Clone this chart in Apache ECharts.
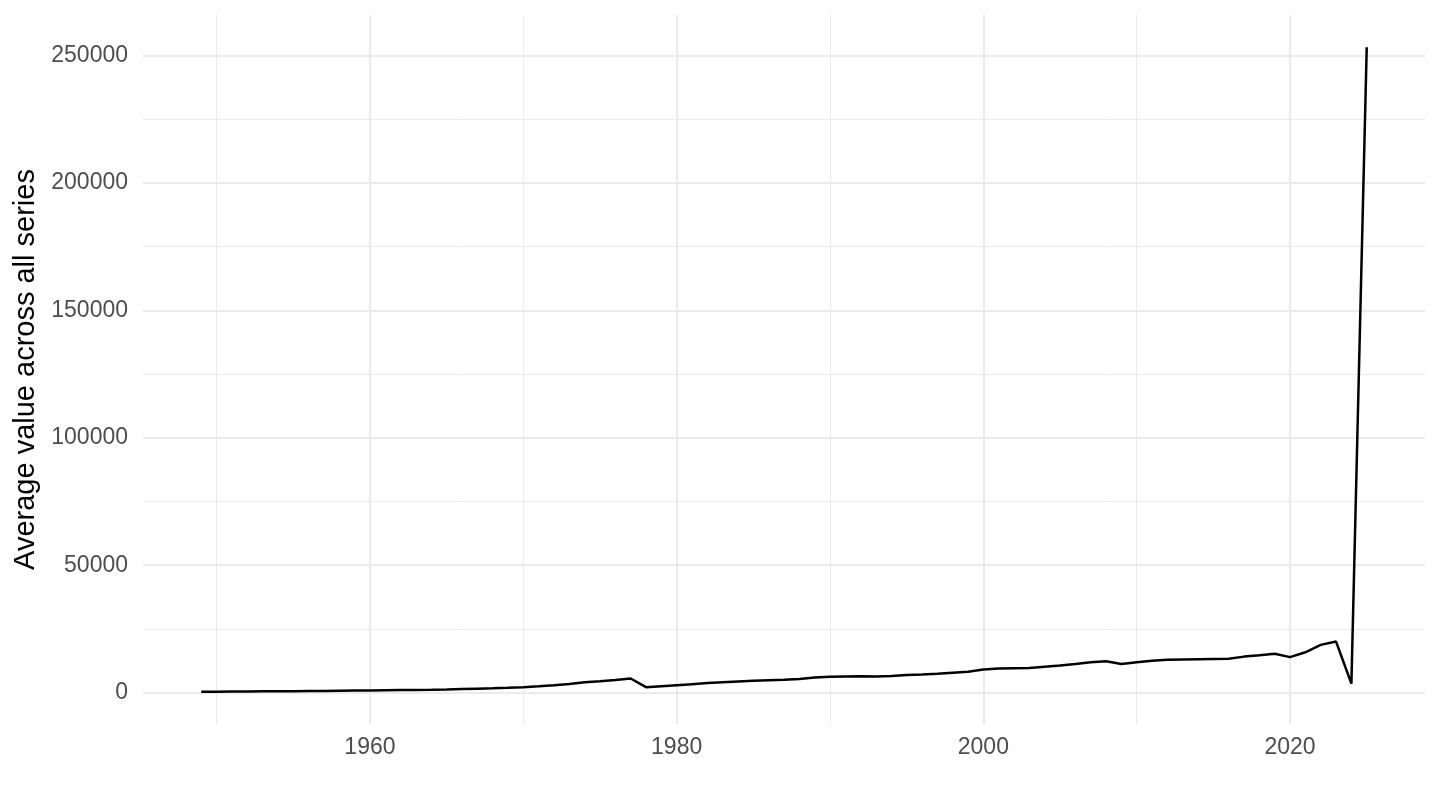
<!DOCTYPE html>
<html>
<head>
<meta charset="utf-8">
<script src="https://cdn.jsdelivr.net/npm/echarts@6/dist/echarts.min.js"></script>
<style>
html,body{margin:0;padding:0;background:#fff;}
#chart{width:1440px;height:810px;}
</style>
</head>
<body>
<div id="chart"></div>
<script>
const years = [1949,1950,1951,1952,1953,1954,1955,1956,1957,1958,1959,
  1960,1961,1962,1963,1964,1965,1966,1967,1968,1969,
  1970,1971,1972,1973,1974,1975,1976,1977,1978,1979,
  1980,1981,1982,1983,1984,1985,1986,1987,1988,1989,
  1990,1991,1992,1993,1994,1995,1996,1997,1998,1999,
  2000,2001,2002,2003,2004,2005,2006,2007,2008,2009,
  2010,2011,2012,2013,2014,2015,2016,2017,2018,2019,
  2020,2021,2022,2023,2024,2025];
const avgValues = [300,350,400,450,500,520,550,600,650,700,760,
  820,880,950,1030,1100,1200,1350,1500,1650,1850,
  2100,2450,2850,3350,4000,4400,4900,5500,2100,2500,
  2900,3300,3700,4050,4350,4600,4800,5000,5300,5900,
  6200,6300,6400,6300,6500,6900,7100,7400,7800,8200,
  9000,9400,9500,9600,10100,10600,11200,11900,12300,11200,
  11900,12500,12900,13000,13100,13200,13300,14100,14600,15200,
  13900,15800,18700,20000,3500,253300];
const xTickLabels = [1960,1980,2000,2020];
const yTickLabels = [0,50000,100000,150000,200000,250000];
const yTitle = 'Average value across all series';

const xMin = 1945.2, xMax = 2028.8;
const yMin = -12350, yMax = 265950;
const FONT = '"Liberation Sans", Arial, sans-serif';

const chart = echarts.init(document.getElementById('chart'));
const seriesData = years.map((y,i)=>[y, avgValues[i]]);

function xAxisDef(step, major){
  return {
    type:'value', position:'bottom', min:xMin, max:xMax, minInterval:step, maxInterval:step,
    axisLine:{show:false}, axisTick:{show:false},
    axisLabel:{
      show:major, margin:12, color:'#4d4d4d', fontSize:23, fontFamily:FONT,
      formatter:(v)=> xTickLabels.some(t=>Math.abs(t-v)<1e-6) ? String(Math.round(v)) : ''
    },
    splitLine:{show:true, showMinLine:false, showMaxLine:false,
      lineStyle:{color:'#ebebeb', width: major?2:1}}
  };
}
function yAxisDef(step, major){
  const d = {
    type:'value', position:'left', min:yMin, max:yMax, minInterval:step, maxInterval:step,
    axisLine:{show:false}, axisTick:{show:false},
    axisLabel:{
      show:major, margin:15, color:'#4d4d4d', fontSize:23, fontFamily:FONT,
      formatter:(v)=> yTickLabels.some(t=>Math.abs(t-v)<1e-6) ? String(Math.round(v)) : ''
    },
    splitLine:{show:true, showMinLine:false, showMaxLine:false,
      lineStyle:{color:'#ebebeb', width: major?2:1}}
  };
  if (major){
    d.name = yTitle;
    d.nameLocation = 'middle';
    d.nameGap = 100;
    d.nameRotate = 90;
    d.nameTextStyle = {color:'#000', fontSize:29, fontFamily:FONT};
  }
  return d;
}

chart.setOption({
  animation:false,
  backgroundColor:'#fff',
  grid:{left:143, right:15, top:15, bottom:86, containLabel:false, outerBoundsMode:'none'},
  xAxis:[xAxisDef(10,false), xAxisDef(20,true)],
  yAxis:[yAxisDef(50000,true), yAxisDef(25000,false)],
  series:[{
    type:'line', xAxisIndex:1, yAxisIndex:0,
    data:seriesData, showSymbol:false, symbol:'none',
    lineStyle:{color:'#000', width:2.5}, z:10
  }]
});
</script>
</body>
</html>
